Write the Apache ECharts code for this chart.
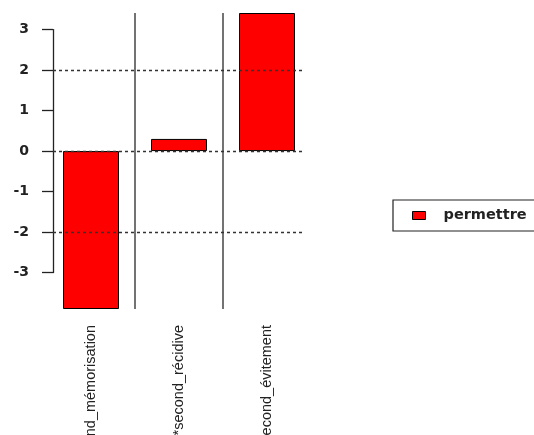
<!DOCTYPE html>
<html>
<head>
<meta charset="utf-8">
<script src="https://cdn.jsdelivr.net/npm/echarts@6/dist/echarts.min.js"></script>
<style>html,body{margin:0;padding:0;background:#fff;}#c{width:534px;height:435px;}</style>
</head>
<body>
<div id="c"></div>
<script>
var categories = ['second_mémorisation', '*second_récidive', 'second_évitement'];
var seriesName = 'permettre';
var values = [-3.9, 0.3, 3.41];
var yTicks = [-3, -2, -1, 0, 1, 2, 3];
var refLines = [-2, 0, 2];

var chart = echarts.init(document.getElementById('c'), null, {renderer: 'canvas'});
var font = 'Liberation Sans, Arial, sans-serif';
var wideFont = 'DejaVu Sans, Verdana, sans-serif';
var yMin = -3.9, yMax = 3.41;
var plotTop = 13, plotH = 296;
var pxPerUnit = plotH / (yMax - yMin);
var zeroY = plotTop + yMax * pxPerUnit;
var g2Top = zeroY - 3 * pxPerUnit;
var g2H = 6 * pxPerUnit;

chart.setOption({
  animation: false,
  backgroundColor: '#ffffff',
  grid: [
    {left: 47, width: 264, top: plotTop, height: plotH, containLabel: false, outerBoundsMode: 'none'},
    {left: 53, width: 250, top: g2Top, height: g2H, containLabel: false, outerBoundsMode: 'none'}
  ],
  legend: {
    data: [seriesName],
    left: 393, top: 200,
    orient: 'vertical',
    padding: [8, 24, 8, 19],
    borderColor: '#222', borderWidth: 1.2,
    icon: 'rect', itemWidth: 13, itemHeight: 8,
    itemStyle: {color: '#ff0000', borderColor: '#000', borderWidth: 1},
    textStyle: {fontFamily: wideFont, fontWeight: 'bold', fontSize: 14.5, color: '#222', padding: [0, 0, 0, 13], lineHeight: 14}
  },
  xAxis: [
    {
      type: 'category', gridIndex: 0, data: categories,
      axisLine: {show: false}, axisTick: {show: false},
      splitLine: {show: true, showMinLine: false, showMaxLine: false, lineStyle: {color: '#444', width: 1.5}},
      axisLabel: {rotate: 90, interval: 0, margin: 16, fontFamily: font, fontSize: 14.5, color: '#222', padding: [0, 0, 7, 0]}
    },
    {
      type: 'category', gridIndex: 1, data: categories, show: false
    }
  ],
  yAxis: [
    {type: 'value', gridIndex: 0, min: yMin, max: yMax, show: false, splitLine: {show: false}},
    {
      type: 'value', gridIndex: 1, min: yTicks[0], max: yTicks[yTicks.length - 1], interval: 1,
      axisLine: {show: true, lineStyle: {color: '#222', width: 1.3}},
      axisTick: {show: true, length: 11, lineStyle: {color: '#222', width: 1.3}},
      splitLine: {show: false},
      axisLabel: {margin: 24, fontFamily: wideFont, fontWeight: 'bold', fontSize: 14, color: '#222'}
    }
  ],
  series: [
    {
      name: seriesName, type: 'bar', xAxisIndex: 0, yAxisIndex: 0,
      data: values, barWidth: 56,
      itemStyle: {color: '#ff0000', borderColor: '#000', borderWidth: 1}
    },
    {
      name: 'ref', type: 'line', xAxisIndex: 1, yAxisIndex: 1, data: [], silent: true, z: 5,
      markLine: {
        silent: true, symbol: 'none', label: {show: false},
        lineStyle: {color: '#333', width: 1.3, type: [3, 3]},
        data: refLines.map(function (v) { return {yAxis: v}; })
      }
    }
  ]
});
</script>
</body>
</html>
